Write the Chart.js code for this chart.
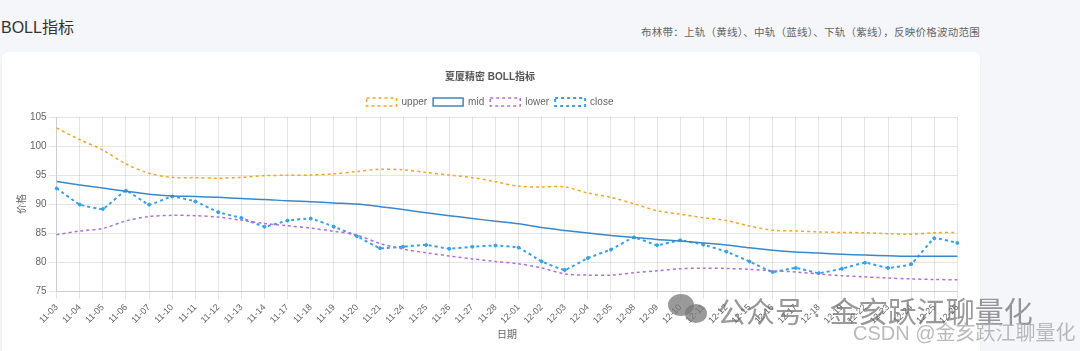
<!DOCTYPE html>
<html>
<head>
<meta charset="utf-8">
<script src="https://cdn.jsdelivr.net/npm/chart.js@4.4.1/dist/chart.umd.min.js"></script>
<style>
    html, body { margin: 0; padding: 0; }
    body {
        width: 1080px; height: 351px; overflow: hidden; position: relative;
        background: #f5f6fa;
        font-family: "Helvetica Neue", Arial, "Noto Sans CJK SC", sans-serif;
    }
    .titulo { position: absolute; left: 1px; top: 14px; font-size: 16px; color: #333; }
    .subtitulo { position: absolute; right: 100px; top: 24px; font-size: 10.5px; color: #666; letter-spacing: 0.25px; }
    .tarjeta {
        position: absolute; left: 2px; top: 52px; width: 978px; height: 330px;
        background: #fff; border-radius: 6px; box-shadow: 0 1px 3px rgba(0,0,0,0.05);
    }
    .lienzo { position: absolute; left: 10px; top: 10px; width: 956px; height: 283px; }
    .marca1 {
        position: absolute; left: 717px; top: 289px; font-size: 29px;
        color: rgba(110,110,110,0.7); white-space: nowrap;
    }
    .marca2 {
        position: absolute; left: 853px; top: 317px; font-size: 20px;
        color: rgba(170,170,170,0.8); white-space: nowrap;
    }
    .burbuja { position: absolute; border-radius: 50%; background: rgba(120,120,120,0.75); }
</style>
</head>
<body>
<div class="titulo">BOLL指标</div>
<div class="subtitulo">布林带：上轨（黄线）、中轨（蓝线）、下轨（紫线），反映价格波动范围</div>
<div class="tarjeta">
    <div class="lienzo"><canvas id="grafico-boll"></canvas></div>
</div>
<div class="burbuja" style="left:668px;top:294px;width:26px;height:22px;"></div>
<div class="burbuja" style="left:685px;top:304px;width:22px;height:19px;"></div>
<div class="marca1">公众号 · 金亥跃江聊量化</div>
<div class="marca2">CSDN @金亥跃江聊量化</div>

<script>
// Fechas del eje X
const fechas = ['11-03', '11-04', '11-05', '11-06', '11-07', '11-10', '11-11', '11-12', '11-13', '11-14',
    '11-17', '11-18', '11-19', '11-20', '11-21', '11-24', '11-25', '11-26', '11-27', '11-28',
    '12-01', '12-02', '12-03', '12-04', '12-05', '12-08', '12-09', '12-10', '12-11', '12-12',
    '12-15', '12-16', '12-17', '12-18', '12-19', '12-22', '12-23', '12-24', '12-25', '12-26'];

// Bandas de Bollinger
const upper = [103.1, 101.1, 99.3, 96.9, 95.3, 94.6, 94.55, 94.45, 94.6, 94.9,
    94.95, 95.0, 95.2, 95.6, 96.0, 95.9, 95.45, 95.0, 94.55, 93.85,
    93.05, 92.95, 92.95, 91.9, 91.15, 90.05, 88.85, 88.25, 87.65, 87.15,
    86.2, 85.5, 85.35, 85.2, 85.1, 85.05, 84.9, 84.8, 85.05, 85.1];
const mid = [93.9, 93.3, 92.75, 92.2, 91.7, 91.4, 91.3, 91.15, 90.95, 90.8,
    90.55, 90.4, 90.2, 90.0, 89.55, 89.05, 88.5, 88.0, 87.5, 87.05,
    86.6, 85.95, 85.45, 85.0, 84.6, 84.25, 83.9, 83.65, 83.3, 82.95,
    82.45, 82.05, 81.75, 81.55, 81.35, 81.2, 81.1, 81.0, 81.0, 81.0];
const lower = [84.7, 85.35, 85.8, 87.1, 87.85, 88.05, 88.0, 87.75, 87.2, 86.65,
    86.25, 85.85, 85.3, 84.65, 83.2, 82.25, 81.6, 81.05, 80.55, 80.1,
    79.7, 79.0, 77.95, 77.75, 77.75, 78.15, 78.5, 78.85, 78.95, 78.9,
    78.75, 78.5, 78.3, 77.95, 77.65, 77.45, 77.25, 77.1, 77.0, 76.95];
// Precio de cierre
const close = [92.7, 89.9, 89.15, 92.3, 89.9, 91.3, 90.45, 88.6, 87.6, 86.1,
    87.15, 87.5, 86.1, 84.45, 82.4, 82.65, 82.95, 82.3, 82.65, 82.85,
    82.5, 80.1, 78.65, 80.7, 82.15, 84.25, 82.9, 83.75, 83.0, 81.8,
    80.1, 78.3, 79.0, 78.1, 78.85, 79.9, 79.0, 79.65, 84.1, 83.3];

const fuente = "'Helvetica Neue', Arial, 'Noto Sans CJK SC', sans-serif";

new Chart(document.getElementById('grafico-boll'), {
    type: 'line',
    data: {
        labels: fechas,
        datasets: [
            {
                label: 'upper',
                data: upper,
                borderColor: '#f5a623',
                backgroundColor: 'rgba(255,255,255,0)',
                borderDash: [3, 3],
                borderWidth: 1.5,
                pointRadius: 0,
                tension: 0.3,
                fill: false
            },
            {
                label: 'mid',
                data: mid,
                borderColor: '#3a88c9',
                backgroundColor: 'rgba(255,255,255,0)',
                borderWidth: 1.5,
                pointRadius: 0,
                tension: 0.3,
                fill: false
            },
            {
                label: 'lower',
                data: lower,
                borderColor: '#b06fd6',
                backgroundColor: 'rgba(255,255,255,0)',
                borderDash: [3, 3],
                borderWidth: 1.5,
                pointRadius: 0,
                tension: 0.3,
                fill: false
            },
            {
                label: 'close',
                data: close,
                borderColor: '#36a2eb',
                backgroundColor: 'rgba(255,255,255,0)',
                pointBackgroundColor: '#36a2eb',
                borderDash: [3, 3],
                borderWidth: 2,
                pointRadius: 1.5,
                pointBorderWidth: 1,
                tension: 0.1,
                fill: false
            }
        ]
    },
    options: {
        responsive: true,
        maintainAspectRatio: false,
        animation: false,
        plugins: {
            title: {
                display: true,
                text: '夏厦精密 BOLL指标',
                color: '#555',
                font: { family: fuente, size: 10, weight: 'bold' },
                padding: { top: 9, bottom: 8 }
            },
            legend: {
                labels: {
                    boxWidth: 30,
                    boxHeight: 8,
                    padding: 6,
                    color: '#666',
                    font: { family: fuente, size: 10 }
                }
            },
            tooltip: { enabled: false }
        },
        scales: {
            x: {
                ticks: {
                    maxRotation: 45,
                    minRotation: 45,
                    autoSkip: false,
                    color: '#666',
                    font: { family: fuente, size: 9 }
                },
                title: {
                    display: true,
                    text: '日期',
                    color: '#666',
                    padding: { top: 0, bottom: 4 },
                    font: { family: fuente, size: 10 }
                }
            },
            y: {
                min: 75,
                max: 105,
                ticks: {
                    stepSize: 5,
                    padding: 2,
                    color: '#666',
                    font: { family: fuente, size: 10 }
                },
                title: {
                    display: true,
                    text: '价格',
                    color: '#666',
                    padding: { top: 4, bottom: 0 },
                    font: { family: fuente, size: 10 }
                }
            }
        }
    }
});
</script>
</body>
</html>
